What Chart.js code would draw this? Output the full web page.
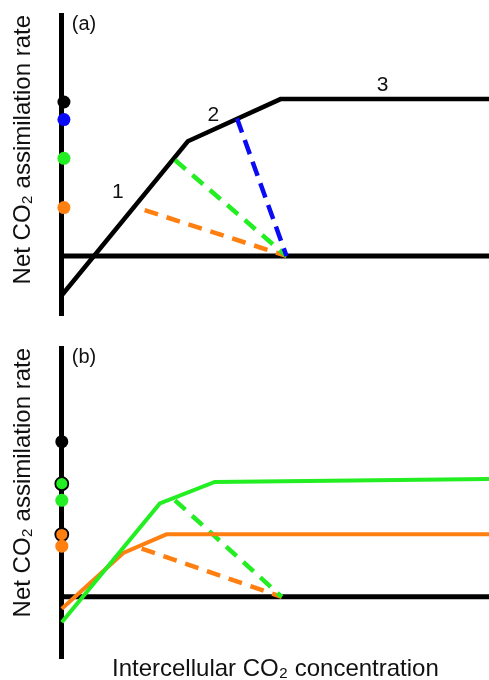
<!DOCTYPE html>
<html lang="en">
<head>
<meta charset="UTF-8">
<title>Net CO2 assimilation vs intercellular CO2</title>
<script src="https://cdn.jsdelivr.net/npm/chart.js@4.4.1/dist/chart.umd.min.js"></script>
<style>
  body { margin: 0; background: #fff; width: 489px; height: 680px; overflow: hidden; }
  .panel { position: relative; width: 489px; }
  #wrapA { height: 330px; }
  #wrapB { height: 350px; }
</style>
</head>
<body>
<div class="panel" id="wrapA"><canvas id="chartA"></canvas></div>
<div class="panel" id="wrapB"><canvas id="chartB"></canvas></div>
<script>
// x = intercellular CO2, y = net CO2 assimilation (both arbitrary units)

// panel (a)
const ciA = [0, 29.5, 51.2, 100];
const netA = [-16.3, 47.6, 65.1, 65.1];
const gammaA = 52.6;                        // where the dashed lines reach zero
const dashStartCiA = [41.0, 26.5, 19.4];    // blue, green, orange
const dashStartNetA = [57.1, 39.8, 19.0];
const dotNetA = [63.9, 56.6, 40.5, 20.1];   // black, blue, green, orange
const segLabels = ['1', '2', '3'];
const segLabelCi = [13.1, 35.5, 75.1];
const segLabelNet = [26.5, 58.6, 70.9];

// panel (b)
const ciGreenB = [0, 22.95, 35.8, 100];
const netGreenB = [-10.5, 38.7, 47.6, 48.8];
const ciOrangeB = [0, 14.4, 24.5, 100];
const netOrangeB = [-4.9, 18.2, 25.9, 25.9];
const gammaB = 51.5;
const dashStartCiB = [26.5, 18.7];          // green, orange
const dashStartNetB = [40.0, 20.0];
const dotNetB = [64.3, 46.9, 40.0, 25.8, 21.0]; // black, green (open), green, orange (open), orange

const BLACK = '#000000';
const BLUE = '#0a0af5';
const GREEN = '#22ee22';
const ORANGE = '#ff7f11';
const FONT = '"Liberation Sans", Arial, sans-serif';

const pts = (xs, ys) => xs.map((x, i) => ({ x: x, y: ys[i] }));

function line(data, color, width, dash) {
    return {
        data: data,
        showLine: true,
        borderColor: color,
        borderWidth: width,
        borderDash: dash || [],
        pointRadius: 0,
        tension: 0,
        clip: false
    };
}

// draws the panel tag and the numbered segment labels
const panelText = {
    id: 'panelText',
    afterDatasetsDraw(chart, args, opts) {
        const { ctx, chartArea, scales } = chart;
        ctx.save();
        ctx.fillStyle = '#111';
        ctx.textBaseline = 'middle';
        ctx.textAlign = 'left';
        ctx.font = '20px ' + FONT;
        ctx.fillText(opts.tag, chartArea.left + 10, chartArea.top + 9);
        if (opts.labels) {
            ctx.textAlign = 'center';
            ctx.font = '21px ' + FONT;
            opts.labels.forEach((t, i) => {
                ctx.fillText(t, scales.x.getPixelForValue(opts.xs[i]), scales.y.getPixelForValue(opts.ys[i]));
            });
        }
        ctx.restore();
    }
};

function yScale(min, max) {
    return {
        min: min,
        max: max,
        ticks: { display: false },
        grid: { display: false, drawTicks: false },
        border: { display: true, color: BLACK, width: 5 },
        title: {
            display: true,
            text: 'Net CO\u2082 assimilation rate',
            align: 'end',
            color: '#111',
            font: { family: FONT, size: 24, lineHeight: 1.2 },
            padding: { top: 9, bottom: 24 }
        }
    };
}

const common = {
    responsive: true,
    maintainAspectRatio: false,
    animation: false,
    events: [],
    plugins: { legend: { display: false }, tooltip: { enabled: false } }
};

// panel (a)
new Chart(document.getElementById('chartA'), {
    type: 'scatter',
    data: {
        datasets: [
            {
                data: dotNetA.map(y => ({ x: 0.5, y: y })),
                pointRadius: 6.5,
                pointBorderWidth: 0,
                pointBackgroundColor: [BLACK, BLUE, GREEN, ORANGE],
                clip: false
            },
            line(pts([dashStartCiA[0], gammaA], [dashStartNetA[0], 0]), BLUE, 4.5, [15, 8]),
            line(pts([dashStartCiA[1], gammaA], [dashStartNetA[1], 0]), GREEN, 4.5, [14, 9]),
            line(pts([dashStartCiA[2], gammaA], [dashStartNetA[2], 0]), ORANGE, 4.5, [14, 9]),
            line(pts(ciA, netA), BLACK, 4.5),
            line(pts([0, 100], [0, 0]), BLACK, 5)
        ]
    },
    options: Object.assign({}, common, {
        layout: { autoPadding: false, padding: { top: 15, bottom: 15, left: 0, right: 0 } },
        scales: {
            x: { type: 'linear', min: 0, max: 100, display: false },
            y: yScale(-24.5, 100)
        },
        plugins: Object.assign({}, common.plugins, {
            panelText: { tag: '(a)', labels: segLabels, xs: segLabelCi, ys: segLabelNet }
        })
    }),
    plugins: [panelText]
});

// panel (b)
new Chart(document.getElementById('chartB'), {
    type: 'scatter',
    data: {
        datasets: [
            {
                data: dotNetB.map(y => ({ x: 0, y: y })),
                pointRadius: 6.5,
                pointBorderColor: BLACK,
                pointBorderWidth: [0, 1.8, 0, 1.8, 0],
                pointBackgroundColor: [BLACK, GREEN, GREEN, ORANGE, ORANGE],
                clip: false
            },
            line(pts(ciGreenB, netGreenB), GREEN, 4),
            line(pts(ciOrangeB, netOrangeB), ORANGE, 4),
            line(pts([dashStartCiB[0], gammaB], [dashStartNetB[0], 0]), GREEN, 4.5, [14, 9]),
            line(pts([dashStartCiB[1], gammaB], [dashStartNetB[1], 0]), ORANGE, 4.5, [14, 9]),
            line(pts([0, 100], [0, 0]), BLACK, 5)
        ]
    },
    options: Object.assign({}, common, {
        layout: { autoPadding: false, padding: { top: 18, bottom: 0, left: 0, right: 0 } },
        scales: {
            x: {
                type: 'linear',
                min: 0,
                max: 100,
                ticks: { display: false },
                grid: { display: false, drawTicks: false },
                border: { display: false },
                title: {
                    display: true,
                    text: 'Intercellular CO\u2082 concentration',
                    color: '#111',
                    font: { family: FONT, size: 24, lineHeight: 0.9 },
                    padding: 0
                }
            },
            y: yScale(-25.5, 103.1)
        },
        plugins: Object.assign({}, common.plugins, {
            panelText: { tag: '(b)' }
        })
    }),
    plugins: [panelText]
});
</script>
</body>
</html>
